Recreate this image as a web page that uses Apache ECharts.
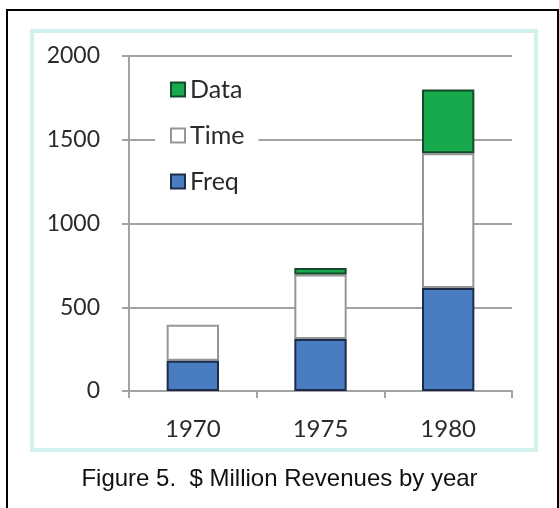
<!DOCTYPE html>
<html>
<head>
<meta charset="utf-8">
<script src="https://cdn.jsdelivr.net/npm/echarts@6/dist/echarts.min.js"></script>
<style>
html,body{margin:0;padding:0;background:#fff;}
#c{width:559px;height:508px;}
</style>
</head>
<body>
<div id="c"></div>
<script>
var categories = ['1970', '1975', '1980'];
var freqValues = [180, 310, 615];
var timeValues = [215, 385, 805];
var dataValues = [0, 40, 380];
var yTicks = [0, 500, 1000, 1500, 2000];
var captionText = 'Figure 5.  $ Million Revenues by year';

function noZero(arr) { return arr.map(function (v) { return v === 0 ? '-' : v; }); }

var chart = echarts.init(document.getElementById('c'), null, {renderer: 'canvas'});
var gridColor = '#a3a3a3';
var labelFont = 'Lato, "Open Sans", sans-serif';
var labelColor = '#2b2b2b';

chart.setOption({
  animation: false,
  backgroundColor: '#fff',
  graphic: [
    {type: 'rect', z: -10, silent: true, shape: {x: 7, y: 10, width: 551, height: 520},
     style: {fill: '#fff', stroke: '#000', lineWidth: 2}},
    {type: 'rect', z: -9, silent: true, shape: {x: 32, y: 31, width: 504, height: 419},
     style: {fill: '#fff', stroke: '#d3f1ec', lineWidth: 4}}
  ],
  title: {
    text: captionText,
    left: 'center',
    top: 462,
    textStyle: {fontFamily: 'Liberation Sans, Arial, sans-serif', fontSize: 24, fontWeight: 'normal', color: '#111'}
  },
  legend: {
    data: ['Data', 'Time', 'Freq'],
    orient: 'vertical',
    left: 155,
    top: 74,
    padding: [3, 14, 3, 15],
    backgroundColor: '#fff',
    itemWidth: 14,
    itemHeight: 14,
    itemGap: 21,
    itemTextGap: 7,
    icon: 'rect',
    textStyle: {fontFamily: labelFont, fontSize: 25, color: labelColor, lineHeight: 25}
  },
  grid: {left: 129, right: 47, top: 56, bottom: 117},
  xAxis: {
    type: 'category',
    data: categories,
    boundaryGap: true,
    axisLine: {show: true, lineStyle: {color: gridColor, width: 2}},
    axisTick: {show: true, length: 7, lineStyle: {color: gridColor, width: 2}},
    axisLabel: {fontFamily: labelFont, fontSize: 24, color: labelColor, margin: 26}
  },
  yAxis: {
    type: 'value',
    min: 0,
    max: 2000,
    interval: 500,
    axisLine: {show: true, lineStyle: {color: gridColor, width: 2}},
    axisTick: {show: true, length: 7, lineStyle: {color: gridColor, width: 2}},
    splitLine: {show: true, lineStyle: {color: gridColor, width: 2}},
    axisLabel: {fontFamily: labelFont, fontSize: 23, color: labelColor, margin: 29,
      formatter: function (v) { return yTicks.indexOf(v) >= 0 ? String(v) : ''; }}
  },
  series: [
    {name: 'Freq', type: 'bar', stack: 'total', data: noZero(freqValues), barWidth: '41%', z: 4,
     itemStyle: {color: '#4a7cc2', borderColor: '#1c2c4a', borderWidth: 2}},
    {name: 'Time', type: 'bar', stack: 'total', data: noZero(timeValues), barWidth: '41%', z: 2,
     itemStyle: {color: '#ffffff', borderColor: '#969696', borderWidth: 2}},
    {name: 'Data', type: 'bar', stack: 'total', data: noZero(dataValues), barWidth: '41%', z: 3,
     itemStyle: {color: '#17a94c', borderColor: '#174a2c', borderWidth: 2}}
  ]
});
</script>
</body>
</html>
